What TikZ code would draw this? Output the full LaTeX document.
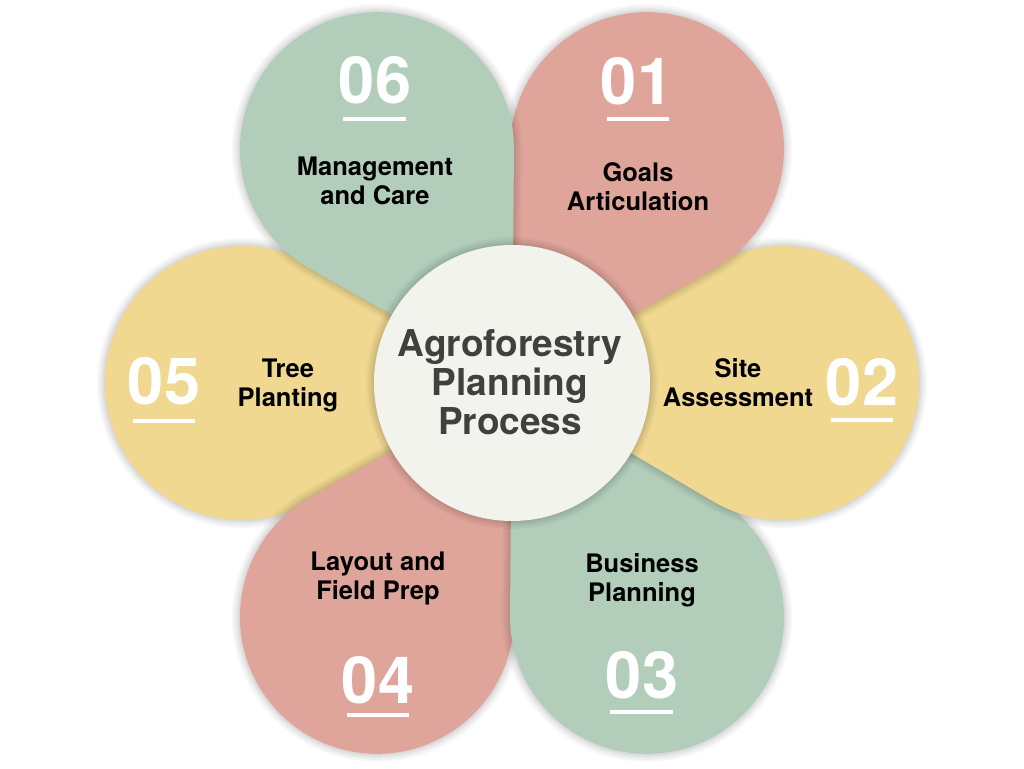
\documentclass[tikz,border=0pt]{standalone}
\usepackage{fontspec}
\setmainfont{TeX Gyre Heros}
\usetikzlibrary{calc}
\definecolor{petalpink}{HTML}{DFA59A}
\definecolor{petalgreen}{HTML}{B2CEBA}
\definecolor{petalyellow}{HTML}{F0D890}
\definecolor{hubfill}{HTML}{F2F3EC}
\definecolor{hubink}{HTML}{404040}
\tikzset{
    every picture/.style={x=1pt,y=1pt},
    haze/.style={draw=black,draw opacity=0.03,line join=round,line width=#1,yshift=-2pt},
    hub/.style={circle,fill=hubfill,minimum size=276pt,inner sep=0pt},
    hubtext/.style={font=\fontsize{37}{39}\selectfont\bfseries,text=hubink,align=center,anchor=base,inner sep=0pt},
    steptext/.style={font=\fontsize{25.5}{29}\selectfont\bfseries,align=center,anchor=base,inner sep=0pt},
    stepnum/.style={font=\fontsize{65}{65}\selectfont\bfseries,text=white,inner sep=0pt},
    numbar/.style={draw=white,line width=4pt}
}
\newcommand\petalpath[1]{(c) -- ($(c)+(#1:270)+(#1+239.5:137)$)
    arc[start angle=#1+239.5,delta angle=241,radius=137] -- cycle}
\begin{document}
\begin{tikzpicture}
    \useasboundingbox[fill=white] (0,0) rectangle (1024,768);
    \coordinate (c) at (512,385);
    % petals, lowest first, each with a soft shadow under it
    \foreach \ang/\col in {180/petalyellow,240/petalpink,300/petalgreen,0/petalyellow,60/petalpink,120/petalgreen}{
        \foreach \w in {2,5,8,12,16}
            \path[haze=\w pt] \petalpath{\ang};
        \fill[\col] \petalpath{\ang};
    }
    \foreach \w in {2,5,8,12,16}
        \path[haze=\w pt] (c) circle[radius=138];
    \node[hub] (hub) at (c) {};
    \node[hubtext] (title) at (510,333) {Agroforestry\\Planning\\Process};

    \node[stepnum] (n1) at (637,686.5) {01};
    \node[stepnum] (n2) at (862,385.5) {02};
    \node[stepnum] (n3) at (642,93) {03};
    \node[stepnum] (n4) at (378,87.5) {04};
    \node[stepnum] (n5) at (164,386.5) {05};
    \node[stepnum] (n6) at (375,688) {06};

    \draw[numbar] (607,649) -- (669,649);
    \draw[numbar] (831,348) -- (893,348);
    \draw[numbar] (610,56) -- (673,56);
    \draw[numbar] (347,53) -- (409,53);
    \draw[numbar] (133,347) -- (195,347);
    \draw[numbar] (343,648.5) -- (406,648.5);

    % text nodes sit on the baseline of their last line
    \node[steptext] (s1) at (638,557) {Goals\\Articulation};
    \node[steptext] (s2) at (738,361) {Site\\Assessment};
    \node[steptext] (s3) at (642,166) {Business\\Planning};
    \node[steptext] (s4) at (378,168) {Layout and\\Field Prep};
    \node[steptext] (s5) at (288,361) {Tree\\Planting};
    \node[steptext] (s6) at (375,563) {Management\\and Care};
\end{tikzpicture}
\end{document}
